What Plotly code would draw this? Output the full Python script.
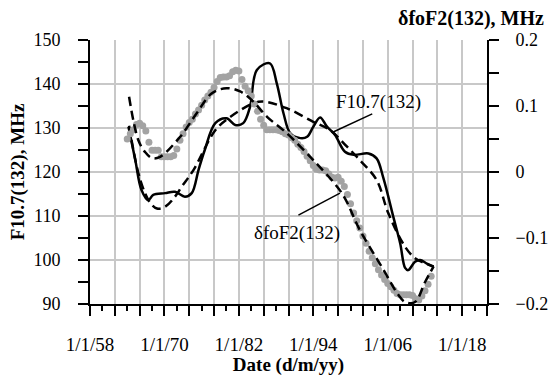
import plotly.graph_objects as go

# ---- data ----
# F10.7(132) smoothed (solid), left axis
f107_year = [1964.2, 1965.3, 1966.3, 1967.4, 1968.2, 1970.1, 1971.7, 1973.3, 1974.4, 1975.5,
             1976.5, 1978.2, 1980.0, 1981.4, 1982.7, 1983.8, 1984.9, 1987.0, 1988.1, 1989.2,
             1990.3, 1991.9, 1993.0, 1994.0, 1995.1, 1996.2, 1997.5, 1999.1, 2000.5, 2002.9,
             2004.2, 2005.3, 2006.9, 2008.0, 2008.8, 2009.3, 2010.4, 2011.2, 2012.3, 2013.4]
f107_val = [130.3, 122.7, 115.9, 113.6, 114.8, 115.2, 115.5, 114.4, 115.2, 120.5,
            125.0, 131.1, 132.2, 130.7, 131.1, 134.8, 143.2, 144.7, 140.2, 133.3,
            128.8, 127.7, 128.0, 130.3, 132.4, 130.3, 128.4, 124.6, 123.9, 124.2,
            123.1, 118.6, 109.8, 103.8, 98.2, 97.7, 99.6, 100.0, 99.2, 98.5]

# F10.7 model (dashed), left axis
f107m_year = [1964.3, 1966.1, 1967.7, 1968.8, 1970.1, 1971.7, 1972.8, 1974.7, 1978.2, 1980.3,
              1984.3, 1986.0, 1989.7, 1994.0, 1996.7, 1999.4, 2001.5, 2004.2, 2006.1, 2008.8,
              2010.4, 2012.0, 2013.4]
f107m_val = [130.5, 118.2, 113.0, 111.7, 112.1, 114.4, 116.7, 120.5, 129.5, 132.2,
             135.6, 136.0, 134.5, 131.4, 129.5, 125.8, 122.7, 118.2, 110.6, 103.0,
             100.4, 99.3, 98.5]

# dfoF2(132) observed (grey dots), right axis
dfo_year = [1964.0 + 0.5 * i for i in range(99)]
dfo_val = [0.050, 0.058, 0.064, 0.072, 0.074, 0.070, 0.062, 0.045, 0.033, 0.033,
           0.033, 0.023, 0.023, 0.023, 0.023, 0.025, 0.035, 0.048, 0.058, 0.068,
           0.075, 0.080, 0.088, 0.094, 0.101, 0.109, 0.115, 0.121, 0.128, 0.137,
           0.143, 0.144, 0.144, 0.146, 0.152, 0.154, 0.153, 0.140, 0.130, 0.123,
           0.115, 0.103, 0.092, 0.080, 0.071, 0.064, 0.064, 0.064, 0.064, 0.063,
           0.061, 0.058, 0.056, 0.052, 0.048, 0.042, 0.037, 0.031, 0.024, 0.017,
           0.010, 0.004, 0.003, 0.003, 0.002, -0.003, -0.008, -0.009, -0.008, -0.014,
           -0.022, -0.034, -0.048, -0.062, -0.074, -0.085, -0.097, -0.108, -0.120, -0.130,
           -0.139, -0.148, -0.156, -0.163, -0.169, -0.174, -0.179, -0.184, -0.186, -0.186,
           -0.186, -0.186, -0.187, -0.192, -0.194, -0.188, -0.180, -0.170, -0.158]

# dfoF2 model (dashed), right axis
dfom_year = [1964.3, 1965.8, 1966.9, 1968.0, 1969.3, 1972.5, 1975.2, 1977.6, 1980.0, 1982.2,
             1984.3, 1986.5, 1989.7, 1993.5, 1994.0, 1998.6, 2001.5, 2005.3, 2007.7, 2008.8,
             2010.4, 2012.0, 2013.4]
dfom_val = [0.114, 0.048, 0.030, 0.021, 0.023, 0.053, 0.089, 0.119, 0.127, 0.122,
            0.107, 0.084, 0.059, 0.023, 0.018, -0.032, -0.088, -0.148, -0.186, -0.197,
            -0.197, -0.167, -0.143]

x_tickvals = [1958, 1962, 1966, 1970, 1974, 1978, 1982, 1986, 1990, 1994, 1998, 2002, 2006, 2010, 2014, 2018, 2022]
x_ticktext = ["1/1/58", "", "", "1/1/70", "", "", "1/1/82", "", "", "1/1/94", "", "", "1/1/06", "", "", "1/1/18", ""]
y2_tickvals = [-0.2, -0.1, 0, 0.1, 0.2]
y2_ticktext = ["\u22120.2", "\u22120.1", "0", "0.1", "0.2"]

FONT = "Liberation Serif"
GRID = "#c8c8c8"

fig = go.Figure()
fig.add_trace(go.Scatter(x=dfo_year, y=dfo_val, yaxis="y2", mode="markers",
                         marker=dict(color="#a3a3a3", size=7), showlegend=False))
fig.add_trace(go.Scatter(x=f107m_year, y=f107m_val, mode="lines", line_shape="spline",
                         line=dict(color="black", width=2.5, dash="9px,5px"), showlegend=False))
fig.add_trace(go.Scatter(x=dfom_year, y=dfom_val, yaxis="y2", mode="lines", line_shape="spline",
                         line=dict(color="black", width=2.5, dash="9px,5px"), showlegend=False))
fig.add_trace(go.Scatter(x=f107_year, y=f107_val, mode="lines", line_shape="spline",
                         line=dict(color="black", width=2.5), showlegend=False))

fig.update_layout(
    width=550, height=376,
    margin=dict(l=90, r=63, t=40, b=72),
    paper_bgcolor="white", plot_bgcolor="white",
    font=dict(family=FONT, size=18, color="black"),
    xaxis=dict(range=[1958, 2022], tickmode="array", tickvals=x_tickvals, ticktext=x_ticktext,
               automargin=False,
               showgrid=True, gridcolor=GRID, gridwidth=1.5, zeroline=False,
               showline=True, linecolor="black", linewidth=2,
               ticks="outside", ticklen=10, tickwidth=1.5, tickcolor="black",
               minor=dict(dtick=2, tick0=1958, ticks="outside", ticklen=5, tickwidth=1.5,
                          tickcolor="black", showgrid=False),
               tickfont=dict(size=19), ticklabelstandoff=12,
               title=dict(text="<b>Date (d/m/yy)</b>", font=dict(size=19), standoff=4)),
    yaxis=dict(range=[90, 150], dtick=10, tick0=90, showgrid=True, gridcolor=GRID, gridwidth=1.5,
               automargin=False,
               zeroline=False, showline=True, linecolor="black", linewidth=2,
               ticks="outside", ticklen=10, tickwidth=1.5, tickcolor="black",
               minor=dict(dtick=5, ticks="outside", ticklen=10, tickwidth=1.5, tickcolor="black",
                          showgrid=False),
               tickfont=dict(size=18), ticklabelstandoff=14,
               title=dict(text="<b>F10.7(132), MHz</b>", font=dict(size=19), standoff=4)),
    yaxis2=dict(range=[-0.2, 0.2], overlaying="y", side="right", tickmode="array",
                automargin=False,
                tickvals=y2_tickvals, ticktext=y2_ticktext, showgrid=False, zeroline=False,
                showline=True, linecolor="black", linewidth=2,
                ticks="outside", ticklen=10, tickwidth=1.5, tickcolor="black",
                minor=dict(dtick=0.05, tick0=-0.2, ticks="outside", ticklen=10, tickwidth=1.5,
                           tickcolor="black"),
                tickfont=dict(size=18), ticklabelstandoff=13),
    annotations=[
        dict(text="<b>\u03b4foF2(132), MHz</b>", xref="paper", yref="paper", x=1.149, y=1.03,
             xanchor="right", yanchor="bottom", showarrow=False, font=dict(size=20)),
        dict(text="F10.7(132)", xref="x", yref="y", x=2004.45, y=136.0, showarrow=False,
             font=dict(size=19)),
        dict(text="\u03b4foF2(132)", xref="x", yref="y", x=1991.4, y=106.1, showarrow=False,
             font=dict(size=19)),
    ],
    shapes=[
        dict(type="line", xref="x", yref="y", x0=1997.2, y0=129.1, x1=2003.5, y1=133.2,
             line=dict(color="black", width=1.5)),
        dict(type="line", xref="x", yref="y", x0=1991.6, y0=110.2, x1=1998.3, y1=115.2,
             line=dict(color="black", width=1.5)),
    ],
)

fig.write_html("out.html", config={"displayModeBar": False},
               post_script="document.body.style.margin='0px';")
